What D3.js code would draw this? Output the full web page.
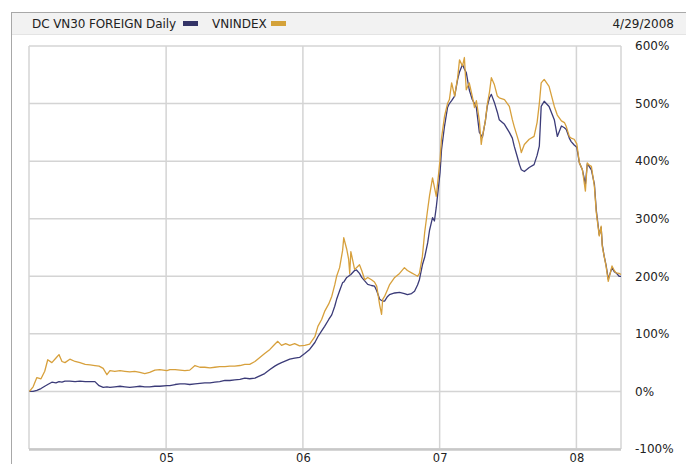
<!DOCTYPE html>
<html>
<head>
<meta charset="utf-8">
<script src="https://cdn.jsdelivr.net/npm/d3@7"></script>
<style>
  body { margin: 0; background: #fff; }
  svg { display: block; font-family: "DejaVu Sans", Verdana, sans-serif; }
</style>
</head>
<body>
<div id="chart"></div>
<script>
// Dates of the sampled points
const dates = [
  "2004-01-02","2004-01-12","2004-01-22","2004-02-02","2004-02-12","2004-02-20","2004-03-02","2004-03-13",
  "2004-03-21","2004-03-29","2004-04-06","2004-04-19","2004-05-03","2004-05-16","2004-05-30","2004-06-12",
  "2004-06-25","2004-07-06","2004-07-17","2004-07-27","2004-08-04","2004-08-17","2004-08-31","2004-09-13",
  "2004-09-26","2004-10-09","2004-10-23","2004-11-05","2004-11-18","2004-12-02","2004-12-15",
  "2005-01-03","2005-01-11","2005-01-25","2005-02-07","2005-02-20","2005-03-05","2005-03-19","2005-04-01",
  "2005-04-14","2005-04-28","2005-05-11","2005-05-24","2005-06-07","2005-06-20","2005-07-03","2005-07-17",
  "2005-07-30","2005-08-12","2005-08-26","2005-09-08","2005-09-21","2005-10-05","2005-10-18","2005-10-26",
  "2005-11-05","2005-11-16","2005-11-27","2005-12-10","2005-12-23",
  "2006-01-06","2006-01-19","2006-02-02","2006-02-10","2006-02-20","2006-02-28","2006-03-11","2006-03-19",
  "2006-03-27","2006-04-01","2006-04-09","2006-04-17","2006-04-20","2006-04-28","2006-05-03","2006-05-06",
  "2006-05-09","2006-05-19","2006-05-24","2006-06-01","2006-06-07","2006-06-15","2006-06-23","2006-07-03",
  "2006-07-11","2006-07-17","2006-07-25","2006-07-30","2006-08-02","2006-08-07","2006-08-15","2006-08-20",
  "2006-09-03","2006-09-16","2006-09-29","2006-10-07","2006-10-18","2006-10-26","2006-11-03","2006-11-08",
  "2006-11-16","2006-11-22","2006-11-30","2006-12-05","2006-12-13","2006-12-18","2006-12-23",
  "2007-01-02","2007-01-06","2007-01-14","2007-01-22","2007-01-27","2007-02-02","2007-02-10","2007-02-18",
  "2007-02-23","2007-03-03","2007-03-08","2007-03-13","2007-03-21","2007-03-29","2007-04-04","2007-04-09",
  "2007-04-17","2007-04-22","2007-04-25","2007-05-03","2007-05-08","2007-05-14","2007-05-19","2007-05-27",
  "2007-06-04","2007-06-09","2007-06-23","2007-07-06","2007-07-14","2007-07-19","2007-07-27","2007-08-02",
  "2007-08-07","2007-08-15","2007-08-28","2007-09-10","2007-09-18","2007-09-24","2007-09-29","2007-10-07",
  "2007-10-20","2007-11-03","2007-11-11","2007-11-22","2007-11-30","2007-12-05","2007-12-13","2007-12-18",
  "2007-12-26",
  "2008-01-02","2008-01-09","2008-01-17","2008-01-25","2008-01-30","2008-02-04","2008-02-10","2008-02-18",
  "2008-02-23","2008-03-02","2008-03-07","2008-03-10","2008-03-15","2008-03-20","2008-03-26","2008-03-31",
  "2008-04-05","2008-04-11","2008-04-16","2008-04-24","2008-04-29"
];

// DC VN30 FOREIGN, % change
const dcValues = [
  0,0,2,5,9,12,16,15,17,16,18,18,17,18,17,17,
  17,10,7,8,7,8,9,8,7,8,9,8,8,9,9,
  10,10,12,13,13,12,13,14,15,15,16,17,19,19,20,21,
  23,22,23,27,31,38,44,47,50,53,56,58,59,
  66,73,85,95,105,113,125,133,148,160,175,189,190,198,200,202,
  203,210,211,205,198,192,186,184,183,175,160,158,157,157,165,168,
  171,172,170,168,170,174,185,194,220,233,258,280,302,296,320,
  380,420,461,493,500,505,513,542,555,568,560,554,524,507,500,493,
  450,445,441,470,495,510,516,502,485,472,464,450,440,426,408,394,
  385,382,389,394,410,426,495,504,495,472,443,461,458,455,440,434,
  428,
  424,397,385,360,395,391,385,360,315,272,285,255,235,220,195,205,
  215,208,206,200,200
];

// VNINDEX, % change
const vnValues = [
  0,8,24,22,35,55,50,58,64,52,50,56,52,50,47,46,
  45,44,40,29,36,35,36,35,34,35,33,31,33,37,38,
  36,38,38,37,36,37,45,42,42,41,42,43,43,44,44,45,
  47,47,52,59,66,73,82,87,80,83,80,83,79,
  80,82,95,113,125,139,152,165,185,200,215,245,267,247,230,205,
  243,212,215,220,210,194,198,194,190,183,150,134,160,165,177,185,
  198,205,215,210,206,203,200,205,235,276,316,340,371,355,339,
  402,440,478,500,507,536,513,545,576,565,580,524,536,513,493,505,
  470,429,443,470,498,520,545,533,513,510,507,495,472,460,443,430,
  415,429,438,443,467,500,536,542,530,495,480,470,467,460,443,440,
  438,
  430,397,385,348,397,393,391,356,311,270,287,252,235,218,191,205,
  218,210,206,205,203
];

const yTicks = [-100, 0, 100, 200, 300, 400, 500, 600];
const yearTicks = ["2005-01-01", "2006-01-01", "2007-01-01", "2008-01-01"];
const seriesNames = ["DC VN30 FOREIGN Daily", "VNINDEX"];
const seriesColors = ["#3b3b78", "#d7a03c"];

const width = 686;
const height = 464;
const plot = { left: 29, right: 621, top: 46, bottom: 449 };

const parse = d3.timeParse("%Y-%m-%d");
const points = dates.map((d, i) => ({ date: parse(d), dc: dcValues[i], vn: vnValues[i] }));

const x = d3.scaleTime()
  .domain([parse("2004-01-01"), parse("2008-04-29")])
  .range([plot.left, plot.right]);

const y = d3.scaleLinear()
  .domain([-100, 600])
  .range([plot.bottom, plot.top]);

const svg = d3.select("#chart")
  .append("svg")
    .attr("width", width)
    .attr("height", height);

// Outer frame and header band
svg.append("rect")
  .attr("x", 11.5).attr("y", 12.5)
  .attr("width", width).attr("height", height)
  .attr("fill", "#fff")
  .attr("stroke", "#a8a8a8");

svg.append("rect")
  .attr("x", 12).attr("y", 13)
  .attr("width", width).attr("height", 21)
  .attr("fill", "#f2f2f2");

svg.append("line")
  .attr("x1", 12).attr("x2", width)
  .attr("y1", 34.5).attr("y2", 34.5)
  .attr("stroke", "#e4e4e4");

// Header legend
const header = svg.append("g").style("font-size", "12px").attr("fill", "#222");
header.append("text").attr("x", 32).attr("y", 28).attr("textLength", 144).text(seriesNames[0]);
header.append("rect").attr("x", 183).attr("y", 21).attr("width", 15).attr("height", 5).attr("fill", "#333366");
header.append("text").attr("x", 212).attr("y", 28).text(seriesNames[1]);
header.append("rect").attr("x", 271).attr("y", 21).attr("width", 15).attr("height", 5).attr("fill", "#d4a23a");
header.append("text").attr("x", 674).attr("y", 28).attr("text-anchor", "end").text("4/29/2008");

// Grid
const grid = svg.append("g").attr("stroke", "#d4d4d4").attr("stroke-width", 1.5);
grid.selectAll(".hgrid")
  .data(yTicks)
  .join("line")
    .attr("x1", plot.left).attr("x2", plot.right)
    .attr("y1", d => y(d)).attr("y2", d => y(d));
grid.selectAll(".vgrid")
  .data(yearTicks.map(parse))
  .join("line")
    .attr("x1", d => x(d)).attr("x2", d => x(d))
    .attr("y1", plot.top).attr("y2", plot.bottom);
grid.append("line")
  .attr("x1", plot.left).attr("x2", plot.left)
  .attr("y1", plot.top).attr("y2", plot.bottom);
grid.append("line")
  .attr("x1", plot.right).attr("x2", plot.right)
  .attr("y1", plot.top).attr("y2", plot.bottom);
grid.append("line")
  .attr("x1", plot.left).attr("x2", plot.right)
  .attr("y1", plot.bottom + 0.5).attr("y2", plot.bottom + 0.5)
  .attr("stroke", "#c8c8c8").attr("stroke-width", 2.5);

// Axes labels
const yAxis = d3.axisRight(y).tickValues(yTicks).tickSize(0).tickPadding(0).tickFormat(d => d + "%");
svg.append("g")
  .attr("transform", `translate(635,0)`)
  .call(yAxis)
  .call(g => g.select(".domain").remove())
  .selectAll("text")
    .attr("fill", "#222")
    .style("font-size", "12px")
    .style("font-family", "DejaVu Sans, Verdana, sans-serif");

const xAxis = d3.axisBottom(x).tickValues(yearTicks.map(parse)).tickSize(0).tickPadding(0).tickFormat(d3.timeFormat("%y"));
svg.append("g")
  .attr("transform", `translate(0,${plot.bottom + 5})`)
  .call(xAxis)
  .call(g => g.select(".domain").remove())
  .selectAll("text")
    .attr("fill", "#222")
    .style("font-size", "11.5px")
    .style("font-family", "DejaVu Sans, Verdana, sans-serif");

// Lines
const lineDc = d3.line().x(d => x(d.date)).y(d => y(d.dc));
const lineVn = d3.line().x(d => x(d.date)).y(d => y(d.vn));

svg.append("path")
  .datum(points)
  .attr("fill", "none")
  .attr("stroke", seriesColors[0])
  .attr("stroke-width", 1.3)
  .attr("stroke-linejoin", "round")
  .attr("d", lineDc);

svg.append("path")
  .datum(points)
  .attr("fill", "none")
  .attr("stroke", seriesColors[1])
  .attr("stroke-width", 1.3)
  .attr("stroke-linejoin", "round")
  .attr("d", lineVn);
</script>
</body>
</html>
